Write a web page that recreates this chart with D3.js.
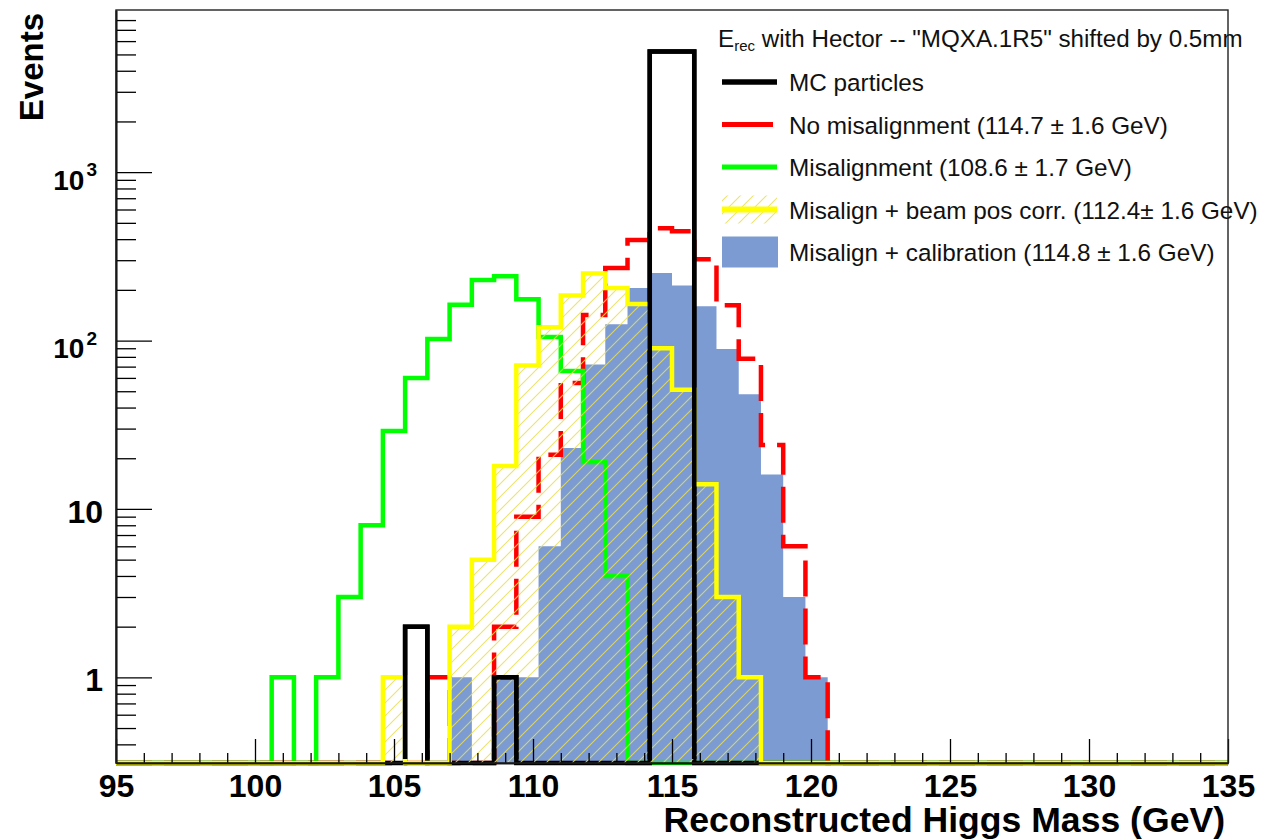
<!DOCTYPE html>
<html>
<head>
<meta charset="utf-8">
<script src="https://cdn.jsdelivr.net/npm/d3@7"></script>
<style>
  body { margin: 0; background: #fff; }
  text { font-family: "Liberation Sans", Arial, Helvetica, sans-serif; }
</style>
</head>
<body>
<div id="chart"></div>
<script>
// Histogram binning (GeV), 0.8 GeV bins from 95 to 135
var binEdges = [95, 95.8, 96.6, 97.4, 98.2, 99, 99.8, 100.6, 101.4, 102.2,
  103, 103.8, 104.6, 105.4, 106.2, 107, 107.8, 108.6, 109.4, 110.2,
  111, 111.8, 112.6, 113.4, 114.2, 115, 115.8, 116.6, 117.4, 118.2,
  119, 119.8, 120.6, 121.4, 122.2, 123, 123.8, 124.6, 125.4, 126.2,
  127, 127.8, 128.6, 129.4, 130.2, 131, 131.8, 132.6, 133.4, 134.2, 135];

// Events per bin
var mcCounts = [0, 0, 0, 0, 0, 0, 0, 0, 0, 0,
  0, 0, 0, 2, 0, 0, 0, 1, 0, 0,
  0, 0, 0, 0, 5200, 5200, 0, 0, 0, 0,
  0, 0, 0, 0, 0, 0, 0, 0, 0, 0,
  0, 0, 0, 0, 0, 0, 0, 0, 0, 0];
var noMisCounts = [0, 0, 0, 0, 0, 0, 0, 0, 0, 0,
  0, 0, 0, 0, 1, 0, 0, 2, 9, 21,
  56, 142, 270, 395, 465, 445, 304, 162, 78, 24,
  6, 1, 0, 0, 0, 0, 0, 0, 0, 0,
  0, 0, 0, 0, 0, 0, 0, 0, 0, 0];
var misCounts = [0, 0, 0, 0, 0, 0, 0, 1, 0, 1,
  3, 8, 29, 60, 102, 163, 229, 241, 176, 105,
  66, 19, 4, 0, 0, 0, 0, 0, 0, 0,
  0, 0, 0, 0, 0, 0, 0, 0, 0, 0,
  0, 0, 0, 0, 0, 0, 0, 0, 0, 0];
var beamCounts = [0, 0, 0, 0, 0, 0, 0, 0, 0, 0,
  0, 0, 1, 0, 0, 2, 5, 18, 71, 120,
  185, 250, 205, 165, 90, 51, 14, 3, 1, 0,
  0, 0, 0, 0, 0, 0, 0, 0, 0, 0,
  0, 0, 0, 0, 0, 0, 0, 0, 0, 0];
var calibCounts = [0, 0, 0, 0, 0, 0, 0, 0, 0, 0,
  0, 0, 0, 0, 0, 1, 0, 1, 1, 6,
  23, 72, 125, 205, 252, 212, 160, 89, 48, 16,
  3, 1, 0, 0, 0, 0, 0, 0, 0, 0,
  0, 0, 0, 0, 0, 0, 0, 0, 0, 0];

// Axis ticks and labels
var xMajorTicks = [95, 100, 105, 110, 115, 120, 125, 130, 135];
var xMinorTicks = [96, 97, 98, 99, 101, 102, 103, 104, 106, 107, 108, 109,
  111, 112, 113, 114, 116, 117, 118, 119, 121, 122, 123, 124,
  126, 127, 128, 129, 131, 132, 133, 134];
var yMajorTicks = [1, 10, 100, 1000];
var yMajorLabels = [["1", ""], ["10", ""], ["10", "2"], ["10", "3"]];
var yMinorTicks = [0.4, 0.5, 0.6, 0.7, 0.8, 0.9,
  2, 3, 4, 5, 6, 7, 8, 9,
  20, 30, 40, 50, 60, 70, 80, 90,
  200, 300, 400, 500, 600, 700, 800, 900,
  2000, 3000, 4000, 5000, 6000, 7000, 8000];

var legendHeader = "with Hector -- \"MQXA.1R5\" shifted by 0.5mm";
var legendLabels = ["MC particles",
  "No misalignment (114.7 \u00b1 1.6 GeV)",
  "Misalignment (108.6 \u00b1 1.7 GeV)",
  "Misalign + beam pos corr. (112.4\u00b1 1.6 GeV)",
  "Misalign + calibration (114.8 \u00b1 1.6 GeV)"];

// Set up the chart
// ================================
var svgWidth = 1261;
var svgHeight = 839;
var margin = { top: 10, right: 33, bottom: 76, left: 116 };
var width = svgWidth - margin.left - margin.right;
var height = svgHeight - margin.top - margin.bottom;

var blueFill = "#7b9bd2";

var svg = d3.select("#chart").append("svg")
  .attr("width", svgWidth)
  .attr("height", svgHeight);

var defs = svg.append("defs");
var hatch = defs.append("pattern")
  .attr("id", "hatch")
  .attr("patternUnits", "userSpaceOnUse")
  .attr("width", 13).attr("height", 13);
hatch.append("path")
  .attr("d", "M-2,2 L2,-2 M0,13 L13,0 M11,15 L15,11")
  .attr("stroke", "#e8de55")
  .attr("stroke-width", 1.1)
  .attr("opacity", 0.85);

defs.append("clipPath").attr("id", "aboveBottom")
  .append("rect")
  .attr("x", -10).attr("y", -10)
  .attr("width", width + 20).attr("height", height + 10 - 4);

var chartGroup = svg.append("g")
  .attr("transform", `translate(${margin.left}, ${margin.top})`);

// Scales
var xScale = d3.scaleLinear().domain([95, 135]).range([0, width]);
var yScale = d3.scaleLog().domain([0.31, 9180]).range([height, 0]);

function yv(c) { return c > 0 ? yScale(c) : height; }

function stepLine(counts) {
  var p = d3.path();
  p.moveTo(xScale(binEdges[0]), yv(counts[0]));
  counts.forEach(function(c, i) {
    p.lineTo(xScale(binEdges[i]), yv(c));
    p.lineTo(xScale(binEdges[i + 1]), yv(c));
  });
  return p.toString();
}

function stepArea(counts) {
  var p = d3.path();
  p.moveTo(xScale(binEdges[0]), height);
  counts.forEach(function(c, i) {
    p.lineTo(xScale(binEdges[i]), yv(c));
    p.lineTo(xScale(binEdges[i + 1]), yv(c));
  });
  p.lineTo(xScale(binEdges[binEdges.length - 1]), height);
  p.closePath();
  return p.toString();
}

// Histograms
chartGroup.append("path").attr("d", stepArea(calibCounts))
  .attr("fill", blueFill);

chartGroup.append("path").attr("d", stepLine(noMisCounts))
  .attr("fill", "none").attr("stroke", "#ff0000")
  .attr("stroke-width", 4.5)
  .attr("stroke-dasharray", "36,12");

chartGroup.append("path").attr("d", stepLine(misCounts))
  .attr("fill", "none").attr("stroke", "#00ff00")
  .attr("stroke-width", 4.5);

chartGroup.append("path").attr("d", stepLine(mcCounts))
  .attr("fill", "none").attr("stroke", "#000")
  .attr("stroke-width", 4.5);

chartGroup.append("path").attr("d", stepArea(beamCounts))
  .attr("fill", "url(#hatch)");

chartGroup.append("path").attr("d", stepLine(beamCounts))
  .attr("fill", "none").attr("stroke", "#ffff00")
  .attr("stroke-width", 4.5);

// MC outline again on top, except along the bottom
chartGroup.append("path").attr("d", stepLine(mcCounts))
  .attr("clip-path", "url(#aboveBottom)")
  .attr("fill", "none").attr("stroke", "#000")
  .attr("stroke-width", 4.5);

// Axes
var xMinor = chartGroup.append("g")
  .attr("transform", `translate(0, ${height})`)
  .call(d3.axisBottom(xScale).tickValues(xMinorTicks).tickSize(-10).tickSizeOuter(0).tickFormat(""));
var xMajor = chartGroup.append("g")
  .attr("transform", `translate(0, ${height})`)
  .call(d3.axisBottom(xScale).tickValues(xMajorTicks).tickSize(-24).tickSizeOuter(0)
    .tickPadding(11).tickFormat(d3.format("d")));
xMajor.selectAll("text")
  .attr("fill", "#000")
  .style("font-size", "32px")
  .style("font-weight", "bold");

var yMinor = chartGroup.append("g")
  .call(d3.axisLeft(yScale).tickValues(yMinorTicks).tickSize(-20).tickSizeOuter(0).tickFormat(""));
var yMajor = chartGroup.append("g")
  .call(d3.axisLeft(yScale).tickValues(yMajorTicks).tickSize(-36).tickSizeOuter(0).tickFormat(""));

[xMinor, xMajor, yMinor, yMajor].forEach(function(g) {
  g.selectAll(".tick line").attr("stroke", "#000").attr("stroke-width", 1.3);
  g.select(".domain").attr("stroke", "#000").attr("stroke-width", 1.6);
});

// y tick labels (1, 10, 10^2, 10^3)
yMajorTicks.forEach(function(v, i) {
  var lab = yMajorLabels[i];
  var ty = yScale(v);
  if (lab[1] === "") {
    chartGroup.append("text")
      .attr("x", -13).attr("y", ty + 14)
      .attr("text-anchor", "end")
      .style("font-size", "32px").style("font-weight", "bold")
      .text(lab[0]);
  } else {
    var t = chartGroup.append("text")
      .attr("x", -19).attr("y", ty + 17.5)
      .attr("text-anchor", "end")
      .style("font-weight", "bold");
    t.append("tspan").style("font-size", "28px").text(lab[0]);
    t.append("tspan").style("font-size", "19px").attr("dx", 2).attr("dy", -13.5).text(lab[1]);
  }
});

// Frame
chartGroup.append("rect")
  .attr("x", 0).attr("y", 0)
  .attr("width", width).attr("height", height)
  .attr("fill", "none").attr("stroke", "#222").attr("stroke-width", 1.4);

// Axis titles
svg.append("text")
  .attr("x", 1225).attr("y", 832)
  .attr("text-anchor", "end")
  .style("font-size", "35.6px").style("font-weight", "bold")
  .text("Reconstructed Higgs Mass (GeV)");

svg.append("text")
  .attr("transform", "translate(42.5, 13) rotate(-90)")
  .attr("text-anchor", "end")
  .style("font-size", "33px").style("font-weight", "bold")
  .text("Events");

// Legend
var legend = svg.append("g");
var head = legend.append("text")
  .attr("x", 718).attr("y", 47)
  .attr("fill", "#111")
  .style("font-size", "24.2px");
head.append("tspan").text("E");
head.append("tspan").style("font-size", "15px").attr("dy", 4).text("rec");
head.append("tspan").attr("dy", -4).text(" " + legendHeader);

var rowY = [82, 124.5, 167, 209.5, 252];
legendLabels.forEach(function(label, i) {
  legend.append("text")
    .attr("x", 789).attr("y", rowY[i] + 9)
    .attr("fill", "#111")
    .style("font-size", "24.3px")
    .text(label);
});

legend.append("line").attr("x1", 722).attr("x2", 777)
  .attr("y1", rowY[0]).attr("y2", rowY[0])
  .attr("stroke", "#000").attr("stroke-width", 5.5);
legend.append("line").attr("x1", 722).attr("x2", 773)
  .attr("y1", rowY[1]).attr("y2", rowY[1])
  .attr("stroke", "#ff0000").attr("stroke-width", 5);
legend.append("line").attr("x1", 722).attr("x2", 777)
  .attr("y1", rowY[2]).attr("y2", rowY[2])
  .attr("stroke", "#00ff00").attr("stroke-width", 5);
legend.append("rect").attr("x", 722).attr("y", rowY[3] - 14)
  .attr("width", 55).attr("height", 28)
  .attr("fill", "url(#hatch)");
legend.append("line").attr("x1", 722).attr("x2", 777)
  .attr("y1", rowY[3]).attr("y2", rowY[3])
  .attr("stroke", "#ffff00").attr("stroke-width", 6);
legend.append("rect").attr("x", 722).attr("y", rowY[4] - 15.5)
  .attr("width", 56).attr("height", 31)
  .attr("fill", blueFill);
</script>
</body>
</html>
